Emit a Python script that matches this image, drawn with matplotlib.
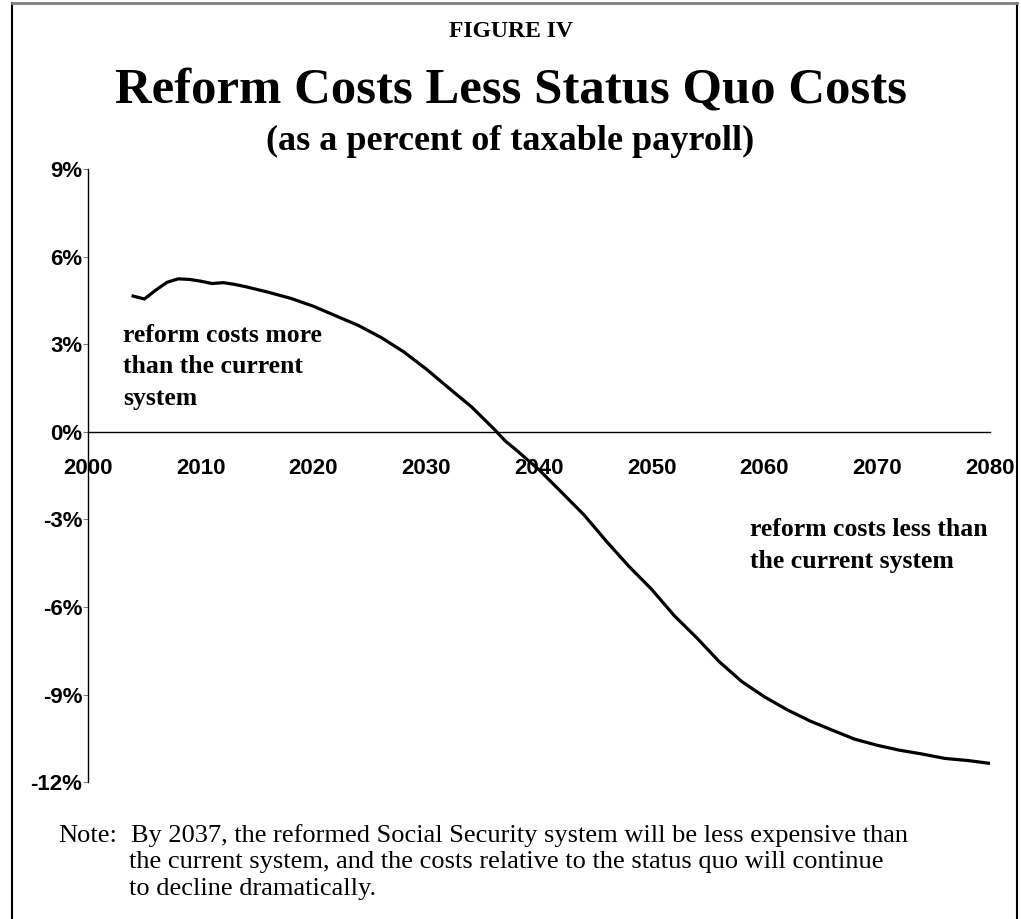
import matplotlib.pyplot as plt
from matplotlib.lines import Line2D
from matplotlib.ticker import FuncFormatter

# reform costs less status quo costs, % of taxable payroll
years = [2004, 2005, 2006, 2007, 2008, 2009, 2010, 2011, 2012, 2013, 2014,
         2016, 2018, 2020, 2022, 2024, 2026, 2028, 2030, 2032, 2034, 2036,
         2037, 2038, 2040, 2042, 2044, 2046, 2048, 2050, 2052, 2054, 2056,
         2058, 2060, 2062, 2064, 2066, 2068, 2070, 2072, 2074, 2076, 2078, 2080]
cost_diff = [4.65, 4.55, 4.85, 5.12, 5.24, 5.22, 5.16, 5.08, 5.11, 5.05, 4.97,
             4.78, 4.57, 4.30, 3.97, 3.64, 3.23, 2.74, 2.15, 1.50, 0.86, 0.10,
             -0.31, -0.63, -1.30, -2.07, -2.85, -3.76, -4.62, -5.40, -6.30, -7.06, -7.88,
             -8.56, -9.08, -9.52, -9.90, -10.22, -10.53, -10.74, -10.91, -11.04, -11.19, -11.26, -11.36]

x_ticks = [2000, 2010, 2020, 2030, 2040, 2050, 2060, 2070, 2080]
y_ticks = [-12, -9, -6, -3, 0, 3, 6, 9]

serif = 'Liberation Serif'
sans = 'Liberation Sans'

fig = plt.figure(figsize=(10.21, 9.19), dpi=100)
ax = fig.add_axes([0.0862, 0.149, 0.8834, 0.667])

ax.plot(years, cost_diff, color='black', lw=2.3)

ax.set_xlim(2000, 2080)
ax.set_ylim(-12, 9)
ax.set_xticks(x_ticks)
ax.set_yticks(y_ticks)
ax.yaxis.set_major_formatter(FuncFormatter(lambda v, p: '%d%%' % v))

ax.spines['top'].set_visible(False)
ax.spines['right'].set_visible(False)
ax.spines['bottom'].set_position(('data', 0))
ax.spines['bottom'].set_linewidth(1.0)
ax.spines['left'].set_linewidth(1.0)

ax.tick_params(axis='x', length=0, pad=19)
ax.tick_params(axis='y', length=3.6, color='#808080', direction='out', pad=0.5)
for lab in ax.get_xticklabels() + ax.get_yticklabels():
    lab.set_fontfamily(sans)
    lab.set_fontweight('bold')
    lab.set_fontsize(16)

# titles
fig.text(0.5, 0.9597, 'FIGURE IV', ha='center', va='baseline',
         family=serif, weight='bold', fontsize=17)
fig.text(0.5, 0.888, 'Reform Costs Less Status Quo Costs', ha='center', va='baseline',
         family=serif, weight='bold', fontsize=36.5)
fig.text(0.5, 0.8368, '(as a percent of taxable payroll)', ha='center', va='baseline',
         family=serif, weight='bold', fontsize=26)

# annotations
ax.text(2003.1, 3.7, 'reform costs more\nthan the current\nsystem', ha='left', va='top',
        family=serif, weight='bold', fontsize=18.5, linespacing=1.47)
ax.text(2058.7, -2.96, 'reform costs less than\nthe current system', ha='left', va='top',
        family=serif, weight='bold', fontsize=18.5, linespacing=1.47)

# note
fig.text(0.0568, 0.0838, 'Note:', ha='left', va='baseline', family=serif, fontsize=19)
fig.text(0.1283, 0.0838, 'By 2037, the reformed Social Security system will be less expensive than',
         ha='left', va='baseline', family=serif, fontsize=19)
fig.text(0.1263, 0.0555, 'the current system, and the costs relative to the status quo will continue',
         ha='left', va='baseline', family=serif, fontsize=19)
fig.text(0.1263, 0.0261, 'to decline dramatically.',
         ha='left', va='baseline', family=serif, fontsize=19)

# frame around the figure
fig.add_artist(Line2D([0.0122, 0.0122], [0.0, 0.9967], color='black', lw=1.5, transform=fig.transFigure))
fig.add_artist(Line2D([0.9965, 0.9965], [0.0, 0.9967], color='black', lw=1.5, transform=fig.transFigure))
fig.add_artist(Line2D([0.0122, 0.9965], [0.9967, 0.9967], color='#808080', lw=2, transform=fig.transFigure))

fig.savefig('out.png', dpi=100)
